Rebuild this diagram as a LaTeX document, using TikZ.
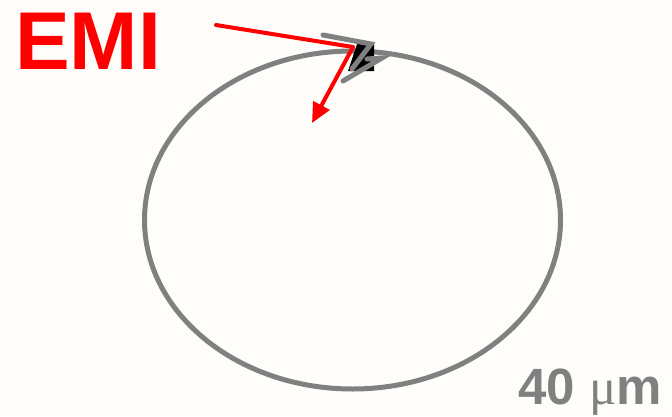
\documentclass[tikz,border=0pt]{standalone}
\usepackage{fontspec}
\setmainfont{Liberation Sans}
\newfontfamily\mufont{Liberation Serif}
\usetikzlibrary{arrows.meta}
\definecolor{bg}{RGB}{254,253,249}
\definecolor{ringgray}{RGB}{128,128,128}
\definecolor{emired}{RGB}{255,0,0}
\begin{document}
\begin{tikzpicture}[x=1pt,y=-1pt,
  ring/.style={draw=ringgray,line width=5pt},
  chev/.style={draw=ringgray,line width=5pt,line cap=round,line join=miter},
  ray/.style={draw=emired,line width=4pt,line cap=round},
  lbl/.style={inner sep=0pt,anchor=base west,font=\bfseries}]
\fill[bg] (0,0) rectangle (672,416);
\useasboundingbox (0,0) rectangle (672,416);
\draw[ring] (352.5,220) ellipse [x radius=208, y radius=169];
% particle
\fill[black] (357,44) -- (374,44) -- (374,71) -- (348,71) -- cycle;
\draw[chev] (323,35) -- (371,44) -- (352,69);
\draw[chev] (367,59) -- (382,58) -- (343,81);
% EMI beam
\coordinate (src) at (216,25);
\coordinate (hit) at (353,47);
\coordinate (out) at (312,123);
\draw[ray] (src) -- (hit);
\draw[ray,line cap=butt,-{Triangle[length=20pt,width=18pt]}] (hit) -- (out);
\node[lbl,text=emired,font=\fontsize{82}{82}\selectfont\bfseries] (emi) at (15,69) {EMI};
\node[lbl,text=ringgray,font=\fontsize{51}{51}\selectfont\bfseries] (scale) at (518,404) {40 {\mufont\mdseries μ}m};
\end{tikzpicture}
\end{document}
